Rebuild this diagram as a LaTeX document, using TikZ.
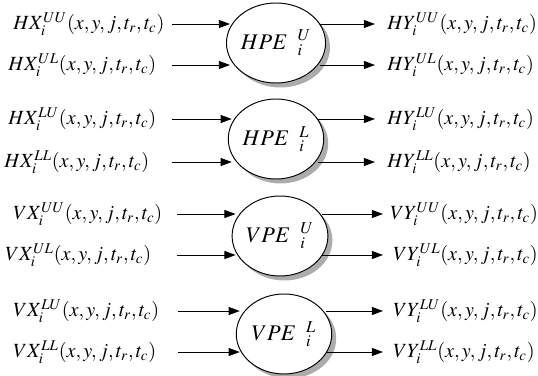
\documentclass[tikz,border=0pt]{standalone}
\usepackage{mathptmx}
\usetikzlibrary{arrows.meta,shapes.geometric,shadows}

\begin{document}
\begin{tikzpicture}[x=0.022cm, y=-0.022cm,
    pe/.style={ellipse, draw, line width=0.6pt, fill=white, inner sep=0pt,
      minimum width=2.1cm, minimum height=1.76cm, font=\fontsize{14}{16}\selectfont,
      drop shadow={shadow xshift=2.8pt, shadow yshift=-2.8pt, fill=black!65}},
    sig/.style={anchor=west, inner sep=0pt, font=\fontsize{12.6}{15}\selectfont},
    arr/.style={-{Triangle[length=7pt,width=5pt]}, line width=0.6pt},
    into/.style={shorten >=-2.5pt},
    outof/.style={shorten <=-4pt}]
  \useasboundingbox (0,0) rectangle (538,376);
  %% processing elements
  \node[pe] (hpeu) at (276,43)  {$HPE\;\;{}^{U}_{i}$};
  \node[pe] (hpel) at (276,139) {$HPE\;\;{}^{L}_{i}$};
  \node[pe] (vpeu) at (280,236) {$VPE\;\;{}^{U}_{i}$};
  \node[pe] (vpel) at (284,334) {$VPE\;\;{}^{L}_{i}$};
  %% inputs
  \node[sig] (hxuu) at (13,24)  {$HX_i^{UU}(x,y,j,t_r,t_c)$};
  \node[sig] (hxul) at (8,65)   {$HX_i^{UL}(x,y,j,t_r,t_c)$};
  \node[sig] (hxlu) at (8,119)  {$HX_i^{LU}(x,y,j,t_r,t_c)$};
  \node[sig] (hxll) at (4,162)  {$HX_i^{LL}(x,y,j,t_r,t_c)$};
  \node[sig] (vxuu) at (13,214) {$VX_i^{UU}(x,y,j,t_r,t_c)$};
  \node[sig] (vxul) at (5,255)  {$VX_i^{UL}(x,y,j,t_r,t_c)$};
  \node[sig] (vxlu) at (13,311) {$VX_i^{LU}(x,y,j,t_r,t_c)$};
  \node[sig] (vxll) at (13,352) {$VX_i^{LL}(x,y,j,t_r,t_c)$};
  %% outputs
  \node[sig] (hyuu) at (387,24)  {$HY_i^{UU}(x,y,j,t_r,t_c)$};
  \node[sig] (hyul) at (387,65)  {$HY_i^{UL}(x,y,j,t_r,t_c)$};
  \node[sig] (hylu) at (387,119) {$HY_i^{LU}(x,y,j,t_r,t_c)$};
  \node[sig] (hyll) at (387,162) {$HY_i^{LL}(x,y,j,t_r,t_c)$};
  \node[sig] (vyuu) at (390,214) {$VY_i^{UU}(x,y,j,t_r,t_c)$};
  \node[sig] (vyul) at (393,255) {$VY_i^{UL}(x,y,j,t_r,t_c)$};
  \node[sig] (vylu) at (393,311) {$VY_i^{LU}(x,y,j,t_r,t_c)$};
  \node[sig] (vyll) at (393,352) {$VY_i^{LL}(x,y,j,t_r,t_c)$};
  %% arrow ends
  \coordinate (hxuu-s) at (172,24);  \coordinate (hyuu-e) at (375,24);
  \coordinate (hxul-s) at (172,65);  \coordinate (hyul-e) at (375,65);
  \coordinate (hxlu-s) at (172,119); \coordinate (hylu-e) at (375,119);
  \coordinate (hxll-s) at (172,162); \coordinate (hyll-e) at (375,162);
  \coordinate (vxuu-s) at (177,214); \coordinate (vyuu-e) at (383,214);
  \coordinate (vxul-s) at (177,255); \coordinate (vyul-e) at (383,255);
  \coordinate (vxlu-s) at (178,311); \coordinate (vylu-e) at (383,311);
  \coordinate (vxll-s) at (178,352); \coordinate (vyll-e) at (383,352);
  %% HPE U
  \draw[arr, into] (hxuu-s) -- (hxuu-s -| hpeu.west);
  \draw[arr, into] (hxul-s) -- (hxul-s -| hpeu.west);
  \draw[arr, outof] (hyuu-e -| hpeu.east) -- (hyuu-e);
  \draw[arr, outof] (hyul-e -| hpeu.east) -- (hyul-e);
  %% HPE L
  \draw[arr, into] (hxlu-s) -- (hxlu-s -| hpel.west);
  \draw[arr, into] (hxll-s) -- (hxll-s -| hpel.west);
  \draw[arr, outof] (hylu-e -| hpel.east) -- (hylu-e);
  \draw[arr, outof] (hyll-e -| hpel.east) -- (hyll-e);
  %% VPE U
  \draw[arr, into] (vxuu-s) -- (vxuu-s -| vpeu.west);
  \draw[arr, into] (vxul-s) -- (vxul-s -| vpeu.west);
  \draw[arr, outof] (vyuu-e -| vpeu.east) -- (vyuu-e);
  \draw[arr, outof] (vyul-e -| vpeu.east) -- (vyul-e);
  %% VPE L
  \draw[arr, into] (vxlu-s) -- (vxlu-s -| vpel.west);
  \draw[arr, into] (vxll-s) -- (vxll-s -| vpel.west);
  \draw[arr, outof] (vylu-e -| vpel.east) -- (vylu-e);
  \draw[arr, outof] (vyll-e -| vpel.east) -- (vyll-e);
\end{tikzpicture}
\end{document}
